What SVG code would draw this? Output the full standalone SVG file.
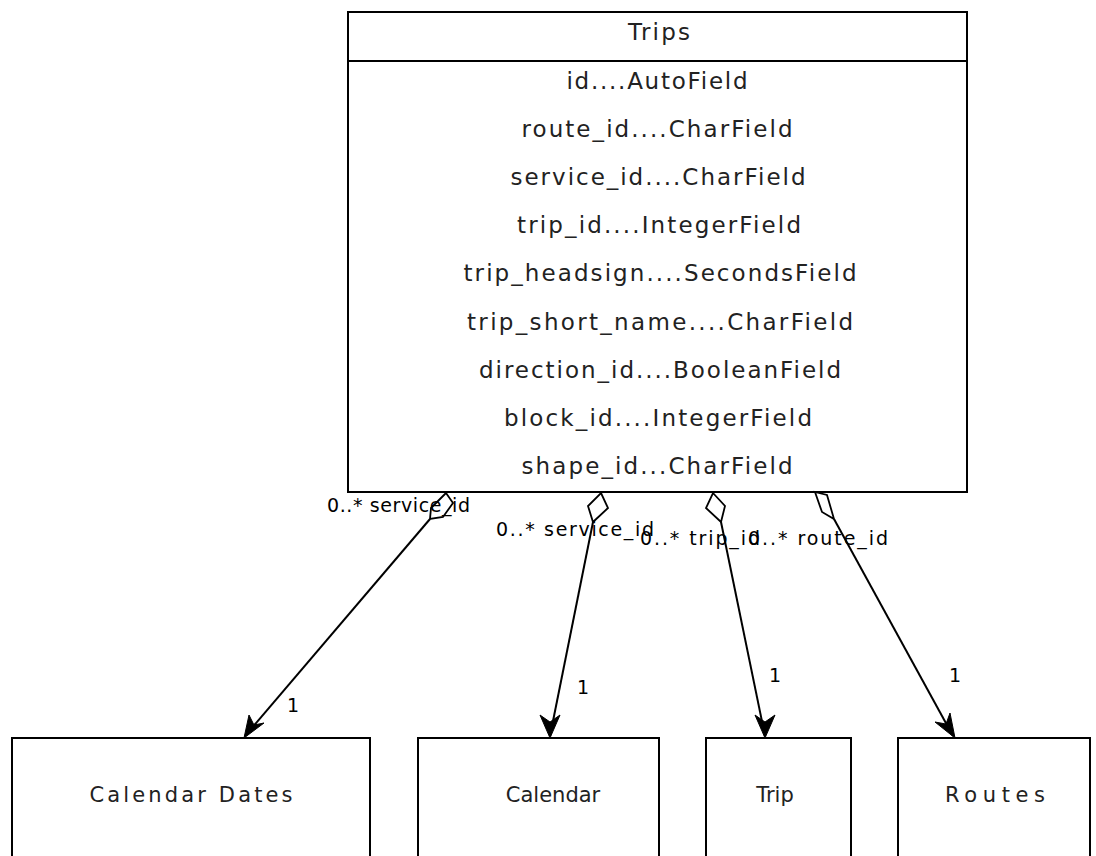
<svg xmlns="http://www.w3.org/2000/svg" width="1096" height="856" viewBox="0 0 1096 856">
<style>
.box{fill:#fff;stroke:#000;stroke-width:2}
.t{font-family:"DejaVu Sans",sans-serif;font-size:23px;fill:#222;text-anchor:middle}
.f{font-family:"DejaVu Sans",sans-serif;font-size:23px;fill:#222;text-anchor:middle}
.n{font-family:"DejaVu Sans",sans-serif;font-size:21px;fill:#222;text-anchor:middle}
.l{font-family:"DejaVu Sans",sans-serif;font-size:19px;fill:#000}
.c{fill:none;stroke:#000;stroke-width:2}
.d{fill:#fff;stroke:#000;stroke-width:1.8}
.a{fill:#000;stroke:#000;stroke-width:1}
</style>
<rect width="1096" height="856" fill="#fff"/>
<g id="trips">
<rect class="box" x="348" y="12" width="619" height="480"/>
<line x1="348" y1="61" x2="967" y2="61" stroke="#000" stroke-width="2"/>
<text class="t" x="659" y="40" textLength="62">Trips</text>
<text class="f" x="657" y="89" textLength="181">id....AutoField</text>
<text class="f" x="657" y="137" textLength="271">route_id....CharField</text>
<text class="f" x="658" y="185" textLength="295">service_id....CharField</text>
<text class="f" x="659" y="233" textLength="284">trip_id....IntegerField</text>
<text class="f" x="660" y="281" textLength="393">trip_headsign....SecondsField</text>
<text class="f" x="660" y="330" textLength="386">trip_short_name....CharField</text>
<text class="f" x="660" y="378" textLength="362">direction_id....BooleanField</text>
<text class="f" x="658" y="426" textLength="308">block_id....IntegerField</text>
<text class="f" x="657" y="474" textLength="271">shape_id...CharField</text>
</g>
<g id="calendar-dates">
<rect class="box" x="12" y="738" width="358" height="130"/>
<text class="n" x="191" y="802" textLength="203">Calendar Dates</text>
</g>
<g id="calendar">
<rect class="box" x="418" y="738" width="241" height="130"/>
<text class="n" x="553" y="802">Calendar</text>
</g>
<g id="trip">
<rect class="box" x="706" y="738" width="145" height="130"/>
<text class="n" x="775" y="802">Trip</text>
</g>
<g id="routes">
<rect class="box" x="898" y="738" width="192" height="130"/>
<text class="n" x="995" y="802" textLength="100">Routes</text>
</g>
<g id="connectors">
<line class="c" x1="430" y1="519" x2="245" y2="736"/>
<path class="d" d="M446,493 L453,503 L443,517 L430,519 L431,508 Z"/>
<path class="a" d="M244,738 L249,715 L254,725 L264,723 Z"/>
<text class="l" x="327" y="512" textLength="143">0..* service_id</text>
<text class="l" x="287" y="712">1</text>

<line class="c" x1="593" y1="522" x2="550" y2="736"/>
<path class="d" d="M601,493 L608,508 L593,522 L588,506 Z"/>
<path class="a" d="M550,738 L540,715 L550,722 L560,715 Z"/>
<text class="l" x="577" y="694">1</text>
<text class="l" x="496" y="536" textLength="158">0..* service_id</text>

<line class="c" x1="721" y1="522" x2="765" y2="736"/>
<path class="d" d="M713,493 L725,506 L721,522 L706,508 Z"/>
<path class="a" d="M765,738 L755,715 L765,722 L775,715 Z"/>
<text class="l" x="640" y="545" textLength="120">0..* trip_id</text>
<text class="l" x="769" y="682">1</text>

<line class="c" x1="834" y1="519" x2="953" y2="736"/>
<path class="d" d="M815,492 L827,495 L834,519 L822,512 Z"/>
<path class="a" d="M955,738 L935,722 L946,724 L950,713 Z"/>
<text class="l" x="748" y="545" textLength="140">0..* route_id</text>
<text class="l" x="949" y="682">1</text>
</g>
</svg>
